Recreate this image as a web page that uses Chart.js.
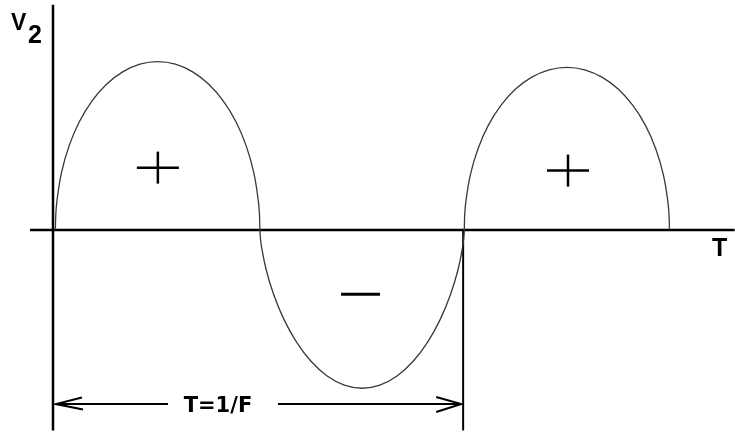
<!DOCTYPE html>
<html>
<head>
<meta charset="utf-8">
<script src="https://cdn.jsdelivr.net/npm/chart.js@4/dist/chart.umd.min.js"></script>
<style>
  html, body { margin: 0; padding: 0; background: #ffffff; }
  #wrap { width: 735px; height: 432px; }
</style>
</head>
<body>
<div id="wrap"><canvas id="c" width="735" height="432"></canvas></div>
<script>
// Phase (degrees) and amplitude (normalised V2)
const phaseDeg = [
  2.1, 2.44, 3.47, 7.53, 14.16, 23.16, 34.25, 47.1, 61.32, 76.48, 92.1,
  107.72, 122.88, 137.1, 149.95, 161.04, 170.04, 176.67, 180.73, 181.76, 182.1,
  182.44, 183.47, 187.52, 194.15, 203.15, 214.23, 227.07, 241.29, 256.43, 272.05,
  287.67, 302.81, 317.03, 329.87, 340.95, 349.95, 356.58, 360.63, 361.66, 362.0,
  362.34, 363.37, 367.44, 374.1, 383.13, 394.26, 407.15, 421.42, 436.62, 452.3,
  467.98, 483.18, 497.45, 510.34, 521.47, 530.5, 537.16, 541.23, 542.26, 542.6
];
const amplitude = [
  0, 0.089, 0.177, 0.349, 0.51, 0.656, 0.781, 0.883, 0.958, 1.005, 1.02,
  1.005, 0.958, 0.883, 0.781, 0.656, 0.51, 0.349, 0.177, 0.089, 0,
  -0.04, -0.0985, -0.2377, -0.3895, -0.54, -0.678, -0.7955, -0.8845, -0.94, -0.959,
  -0.94, -0.8845, -0.7955, -0.678, -0.54, -0.3895, -0.2377, -0.0985, -0.04, 0,
  0.086, 0.171, 0.337, 0.493, 0.634, 0.755, 0.854, 0.9265, 0.971, 0.986,
  0.971, 0.9265, 0.854, 0.755, 0.634, 0.493, 0.337, 0.171, 0.086, 0
];

// Polarity signs inside each half cycle
const signPhase = [92.3, 453.3, 270.7];
const signAmp = [0.378, 0.36, -0.39];
const signKind = ['+', '+', '-'];

// Period marker
const periodPhase = 361;
const periodLabel = 'T=1/F';
const yAxisLabel = 'V';
const yAxisSub = '2';
const xAxisLabel = 'T';

const curve = phaseDeg.map((x, i) => ({ x: x, y: amplitude[i] }));
const plusPts = signPhase.map((x, i) => ({ x: x, y: signAmp[i], k: signKind[i] })).filter(p => p.k === '+');
const minusPts = signPhase.map((x, i) => ({ x: x, y: signAmp[i], k: signKind[i] })).filter(p => p.k === '-');

const decor = {
  id: 'decor',
  beforeDatasetsDraw(chart) {
    const ctx = chart.ctx;
    const sx = chart.scales.x, sy = chart.scales.y;
    const X = v => sx.getPixelForValue(v);
    const Y = v => sy.getPixelForValue(v);
    ctx.save();
    ctx.strokeStyle = '#000';
    ctx.lineCap = 'butt';
    // axes
    ctx.lineWidth = 2.5;
    ctx.beginPath();
    ctx.moveTo(X(0), Y(1.365)); ctx.lineTo(X(0), Y(-1.215));
    ctx.moveTo(X(-20.2), Y(0)); ctx.lineTo(X(600), Y(0));
    ctx.stroke();
    // period marker
    ctx.lineWidth = 2;
    ctx.beginPath();
    ctx.moveTo(X(periodPhase), Y(0)); ctx.lineTo(X(periodPhase), Y(-1.215));
    ctx.stroke();
    // arrow
    const ay = Y(-1.055);
    const lx = X(2.6), rx = X(359.3);
    ctx.lineWidth = 2;
    ctx.beginPath();
    ctx.moveTo(lx, ay); ctx.lineTo(X(101.2), ay);
    ctx.moveTo(X(198), ay); ctx.lineTo(rx, ay);
    ctx.moveTo(lx + 26, ay - 6.5); ctx.lineTo(lx, ay); ctx.lineTo(lx + 27, ay + 5.5);
    ctx.moveTo(rx - 25, ay - 7); ctx.lineTo(rx, ay); ctx.lineTo(rx - 25, ay + 8);
    ctx.stroke();
    // texts
    ctx.fillStyle = '#000';
    ctx.textBaseline = 'alphabetic';
    ctx.textAlign = 'center';
    ctx.font = 'bold 21px "DejaVu Sans", sans-serif';
    ctx.fillText(periodLabel, X(145.2), ay + 8);
    ctx.textAlign = 'left';
    ctx.font = 'bold 23px "Liberation Sans", Arial, sans-serif';
    ctx.fillText(yAxisLabel, 11, 30);
    ctx.font = 'bold 25px "Liberation Sans", Arial, sans-serif';
    ctx.fillText(yAxisSub, 28, 43);
    ctx.fillText(xAxisLabel, 712, 256);
    ctx.restore();
  }
};

new Chart(document.getElementById('c'), {
  type: 'scatter',
  data: {
    datasets: [
      {
        data: curve, showLine: true, tension: 0.4,
        borderColor: '#383838', borderWidth: 1.3,
        pointRadius: 0, pointHoverRadius: 0, fill: false
      },
      {
        data: plusPts, showLine: false, pointStyle: 'line', pointRadius: 21,
        pointRotation: 0, borderColor: '#000', backgroundColor: '#000', pointBorderWidth: 2.5
      },
      {
        data: plusPts, showLine: false, pointStyle: 'line', pointRadius: 16,
        pointRotation: 90, borderColor: '#000', backgroundColor: '#000', pointBorderWidth: 2.5
      },
      {
        data: minusPts, showLine: false, pointStyle: 'line', pointRadius: 19.5,
        pointRotation: 0, borderColor: '#000', backgroundColor: '#000', pointBorderWidth: 3
      }
    ]
  },
  options: {
    responsive: false,
    animation: false,
    devicePixelRatio: 1,
    layout: { padding: 0, autoPadding: false },
    plugins: { legend: { display: false }, tooltip: { enabled: false } },
    events: [],
    scales: {
      x: { type: 'linear', display: false, min: -46.65, max: 600.29 },
      y: { type: 'linear', display: false, min: -1.22424, max: 1.39394 }
    }
  },
  plugins: [decor]
});
</script>
</body>
</html>
